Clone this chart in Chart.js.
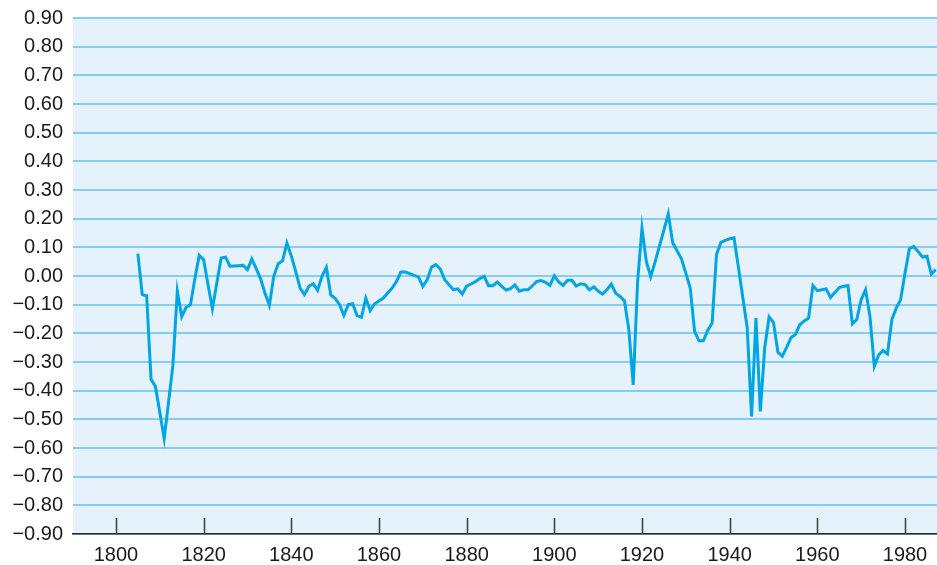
<!DOCTYPE html>
<html>
<head>
<meta charset="utf-8">
<script src="https://cdn.jsdelivr.net/npm/chart.js@4/dist/chart.umd.min.js"></script>
<style>
  html, body { margin: 0; padding: 0; background: #fff; }
  #wrap { width: 937px; height: 565px; }
</style>
</head>
<body>
<div id="wrap"><canvas id="c" width="937" height="565"></canvas></div>
<script>
// index -> year, first point is 1805
const firstYear = 1805;
const xTicks = [1800, 1820, 1840, 1860, 1880, 1900, 1920, 1940, 1960, 1980];
const yTicks = [-0.9, -0.8, -0.7, -0.6, -0.5, -0.4, -0.3, -0.2, -0.1, 0, 0.1, 0.2, 0.3, 0.4, 0.5, 0.6, 0.7, 0.8, 0.9];
const values = [
  0.078, -0.065, -0.069, -0.36, -0.385,                                  // 1805-1809
  -0.475, -0.567, -0.44, -0.31, -0.053, -0.142, -0.109, -0.10, -0.01, 0.072, // 1810s
  0.057, -0.03, -0.114, -0.025, 0.063, 0.066, 0.034, 0.035, 0.036, 0.037,    // 1820s
  0.022, 0.059, 0.026, -0.01, -0.06, -0.102, -0.001, 0.043, 0.053, 0.115,    // 1830s
  0.07, 0.016, -0.042, -0.065, -0.036, -0.027, -0.05, -0.001, 0.03, -0.066,  // 1840s
  -0.078, -0.10, -0.137, -0.10, -0.097, -0.138, -0.144, -0.077, -0.121, -0.097, // 1850s
  -0.087, -0.077, -0.059, -0.042, -0.019, 0.014, 0.014, 0.008, 0.002, -0.003, // 1860s
  -0.036, -0.013, 0.031, 0.04, 0.024, -0.013, -0.031, -0.048, -0.045, -0.063, // 1870s
  -0.035, -0.028, -0.02, -0.009, -0.001, -0.034, -0.034, -0.021, -0.036, -0.049, // 1880s
  -0.044, -0.031, -0.053, -0.048, -0.048, -0.034, -0.019, -0.016, -0.022, -0.033, // 1890s
  0.001, -0.021, -0.033, -0.015, -0.015, -0.035, -0.027, -0.03, -0.048, -0.038, // 1900s
  -0.053, -0.063, -0.048, -0.028, -0.06, -0.071, -0.086, -0.187, -0.38, -0.02,  // 1910s
  0.167, 0.05, -0.002, 0.05, 0.105, 0.16, 0.217, 0.116, 0.088, 0.06,          // 1920s
  0.01, -0.042, -0.193, -0.226, -0.226, -0.19, -0.164, 0.075, 0.117, 0.124,    // 1930s
  0.13, 0.133, 0.03, -0.075, -0.18, -0.49, -0.147, -0.472, -0.25, -0.143,      // 1940s
  -0.162, -0.265, -0.28, -0.249, -0.215, -0.204, -0.17, -0.157, -0.147, -0.033, // 1950s
  -0.051, -0.048, -0.045, -0.075, -0.058, -0.04, -0.036, -0.034, -0.167, -0.152, // 1960s
  -0.083, -0.048, -0.14, -0.315, -0.275, -0.26, -0.272, -0.152, -0.112, -0.083, // 1970s
  0.01, 0.095, 0.103, 0.085, 0.066, 0.069, 0.007, 0.022                         // 1980-1987
];

const points = values.map((v, i) => ({ x: firstYear + i, y: v }));

// light blue plot background
const plotBg = {
  id: 'plotBg',
  beforeDraw(chart) {
    const { ctx, chartArea: a } = chart;
    ctx.save();
    ctx.fillStyle = '#e5f1fb';
    ctx.fillRect(a.left, a.top, a.right - a.left, a.bottom - a.top);
    ctx.restore();
  }
};

// short tick marks pointing up from the x axis
const innerTicks = {
  id: 'innerTicks',
  afterDraw(chart) {
    const { ctx, chartArea: a, scales } = chart;
    ctx.save();
    ctx.strokeStyle = '#3a3a3a';
    ctx.lineWidth = 1.5;
    xTicks.forEach(t => {
      const x = Math.round(scales.x.getPixelForValue(t)) + 0.5;
      ctx.beginPath();
      ctx.moveTo(x, a.bottom - 16);
      ctx.lineTo(x, a.bottom);
      ctx.stroke();
    });
    ctx.restore();
  }
};

new Chart(document.getElementById('c'), {
  type: 'line',
  data: {
    datasets: [{
      data: points,
      borderColor: '#00a5e3',
      borderWidth: 3,
      pointRadius: 0,
      tension: 0,
      fill: false
    }]
  },
  options: {
    responsive: false,
    animation: false,
    layout: { padding: { top: 18, right: 0, left: 0, bottom: 0 } },
    plugins: { legend: { display: false }, tooltip: { enabled: false } },
    scales: {
      x: {
        type: 'linear',
        min: 1790.2,
        max: 1987.3,
        afterFit(s) { s.height = 31; s.paddingLeft = 0; s.paddingRight = 0; },
        afterBuildTicks(s) { s.ticks = xTicks.map(v => ({ value: v })); },
        grid: { display: false, drawTicks: false },
        border: { display: true, color: '#2a2a2a', width: 1.5 },
        ticks: {
          padding: 9,
          color: '#1a1a1a',
          font: { family: '"Liberation Sans", Arial, sans-serif', size: 20 },
          callback: v => String(v)
        }
      },
      y: {
        min: -0.9,
        max: 0.9,
        afterFit(s) { s.width = 73; s.paddingTop = 0; s.paddingBottom = 0; },
        afterBuildTicks(s) { s.ticks = yTicks.map(v => ({ value: v })); },
        grid: { color: '#86cdf1', lineWidth: 2, drawTicks: false },
        border: { display: false },
        ticks: {
          padding: 10,
          color: '#1a1a1a',
          font: { family: '"Liberation Sans", Arial, sans-serif', size: 20 },
          callback: v => (Math.abs(v) < 1e-9 ? '0.00' : v.toFixed(2).replace('-', '\u2212'))
        }
      }
    }
  },
  plugins: [plotBg, innerTicks]
});
</script>
</body>
</html>
